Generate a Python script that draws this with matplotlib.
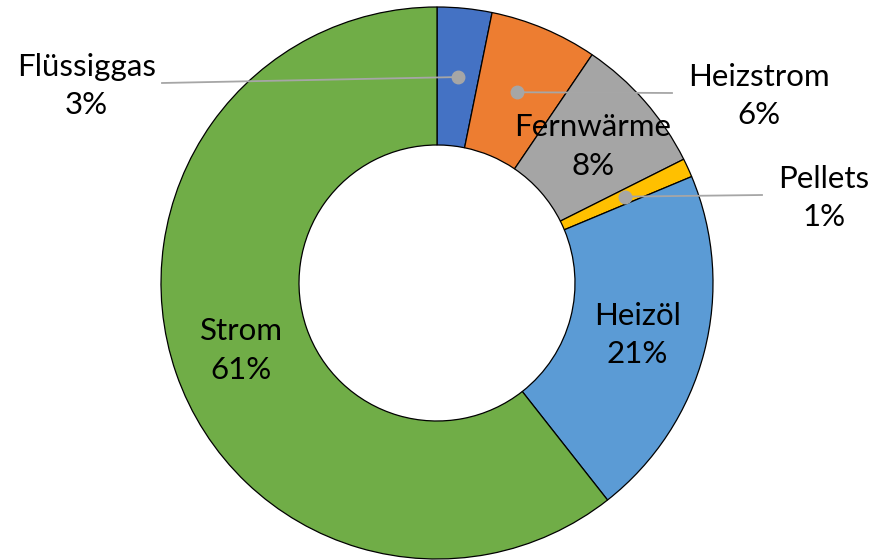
import numpy as np
import matplotlib.pyplot as plt

# share of heating energy sources (percent), clockwise from 12 o'clock
labels = ['Flüssiggas', 'Heizstrom', 'Fernwärme', 'Pellets', 'Heizöl', 'Strom']
values = [3.2, 6.3, 8.1, 1.1, 20.7, 60.6]
colors = ['#4472C4', '#ED7D31', '#A5A5A5', '#FFC000', '#5B9BD5', '#70AD47']

# labels placed outside with a leader line: end of the line (x, y) in pixels, side
outside = {'Flüssiggas': (162, 477, 'left'),
           'Heizstrom': (672, 467, 'right'),
           'Pellets': (762, 365, 'right')}

W, H = 874, 560
cx, cy, R = 437, 277, 276
ring = 0.5

fig = plt.figure(figsize=(W / 100, H / 100), dpi=100)
ax = fig.add_axes([0, 0, 1, 1])

wedges, _ = ax.pie(values, colors=colors, startangle=90, counterclock=False,
                   center=(cx, cy), radius=R,
                   wedgeprops=dict(width=R * ring, edgecolor='black', linewidth=0.9))
# pie() sets its own limits, reset to pixel units
ax.set_xlim(0, W)
ax.set_ylim(0, H)
ax.set_aspect('equal')
ax.axis('off')

font = dict(family=['Lato', 'DejaVu Sans'], fontsize=22.5, color='black')
r_mid = R * (1 - ring / 2)
for w, lab, v in zip(wedges, labels, values):
    ang = np.deg2rad((w.theta1 + w.theta2) / 2)
    px, py = cx + r_mid * np.cos(ang), cy + r_mid * np.sin(ang)
    txt = f'{lab}\n{round(v):.0f}%'
    if lab in outside:
        ex, ey, side = outside[lab]
        ax.plot([px, ex], [py, ey], color='#A6A6A6', lw=1.3, zorder=3)
        ax.plot(px, py, 'o', color='#A6A6A6', ms=9, zorder=4)
        if side == 'left':
            ax.text(ex - 6, ey - 3, txt, ha='right', va='center', multialignment='center',
                    linespacing=1.45, **font)
        else:
            ax.text(ex + 16, ey - 3, txt, ha='left', va='center', multialignment='center',
                    linespacing=1.45, **font)
    else:
        ax.text(px, py, txt, ha='center', va='center', linespacing=1.45, **font)

fig.savefig('out.png', dpi=100)
